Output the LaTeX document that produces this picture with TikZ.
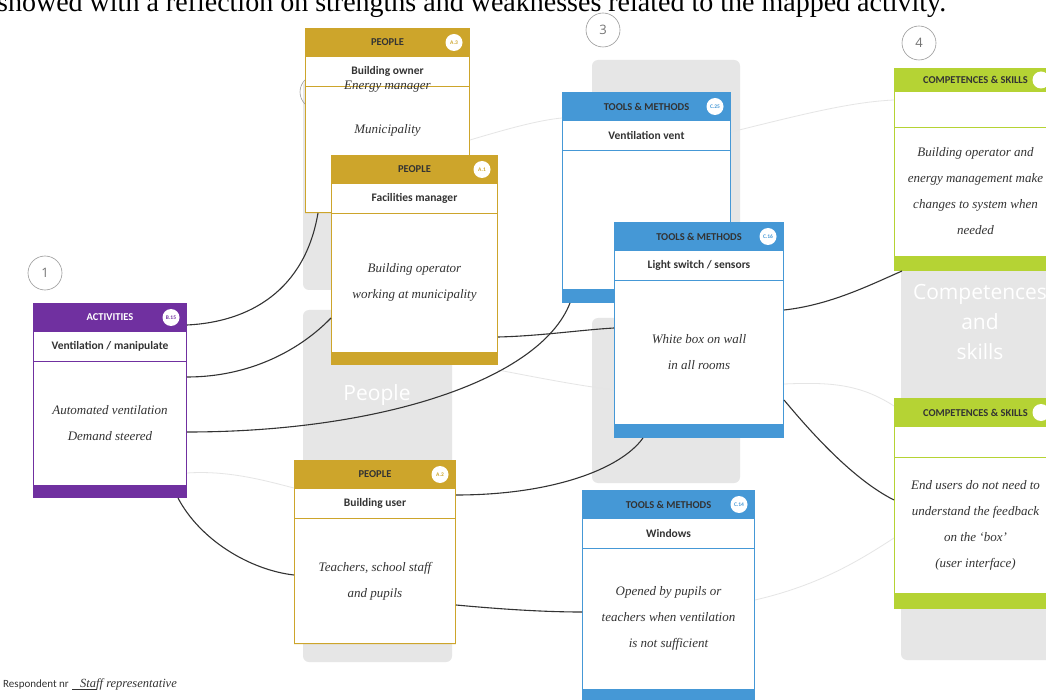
\documentclass[tikz,border=0pt]{standalone}
\usepackage{fontspec}
\setmainfont{Liberation Serif}
\newfontfamily\cardfont{Carlito}
\newfontfamily\labelfont{Open Sans}

\definecolor{actpurple}{HTML}{7030A0}
\definecolor{peoplegold}{HTML}{CDA52B}
\definecolor{toolblue}{HTML}{4598D6}
\definecolor{skillgreen}{HTML}{B5D334}
\definecolor{colgray}{HTML}{E6E6E6}
\definecolor{inkgray}{HTML}{333333}

\def\cardhead{29}
\def\cardsub{29}
\def\cardfoot{13}

\tikzset{
  cardbox/.style={draw, fill=white, line width=1pt, inner sep=0pt, anchor=north west},
  cardtitle/.style={font=\cardfont\fontsize{10.5}{12}\selectfont\bfseries, text=inkgray},
  badge/.style={circle, fill=white, inner sep=0pt, minimum size=17pt, font=\cardfont\fontsize{5.5}{6}\selectfont\bfseries},
  cardsub/.style={font=\cardfont\fontsize{11.5}{13}\selectfont\bfseries, text=inkgray},
  hand/.style={font=\itshape\fontsize{13}{26}\selectfont, text=inkgray, align=center},
  column/.style={fill=colgray, rounded corners=6pt},
  colword/.style={font=\labelfont\fontsize{21}{30}\selectfont, text=white, align=center},
  stepnum/.style={circle, draw=black!40, line width=0.6pt, minimum size=34pt, inner sep=0pt, font=\labelfont\fontsize{13}{13}\selectfont, text=black!55},
  link/.style={draw=inkgray, line width=1.1pt},
  faint/.style={draw=black!10, line width=0.8pt},
}

% card: name, top left, width, height, colour, title, badge, subtitle, text
\newcommand\card[9]{%
  \node[cardbox, draw=#5, minimum width=#3pt, minimum height=#4pt] (#1) at #2 {};
  \fill[#5] (#1.north west) rectangle ([yshift={-\cardhead*1pt}]#1.north east);
  \fill[#5] (#1.south west) rectangle ([yshift={\cardfoot*1pt}]#1.south east);
  \draw[#5, line width=0.6pt] ([yshift={-(\cardhead+\cardsub)*1pt}]#1.north west) -- ([yshift={-(\cardhead+\cardsub)*1pt}]#1.north east);
  \node[cardtitle] (#1-t) at ([yshift={-\cardhead*0.5pt}]#1.north) {#6};
  \node[badge, text=#5] (#1-b) at ([xshift=-16pt, yshift={-\cardhead*0.5pt}]#1.north east) {#7};
  \node[cardsub] (#1-s) at ([yshift={-(\cardhead+\cardsub*0.5)*1pt}]#1.north) {#8};
  \path ([yshift={-(\cardhead+\cardsub)*1pt}]#1.north) -- ([yshift={\cardfoot*1pt}]#1.south) node[midway, hand] (#1-h) {#9};
}

\begin{document}
\begin{tikzpicture}[x=1pt, y=-1pt]
  \useasboundingbox (0,0) rectangle (1046,700);
  \clip (0,0) rectangle (1046,700);
  \fill[white] (0,0) rectangle (1046,700);

  % text above the figure
  \node[anchor=base west, inner sep=0pt, font=\fontsize{28}{28}\selectfont] (intro) at (-3,12)
    {showed with a reflection on strengths and weaknesses related to the mapped activity.};

  % grey columns
  \fill[column] (303,80) rectangle (452,290);
  \fill[column] (303,310) rectangle (452,662);
  \fill[column] (592,60) rectangle (740,300);
  \fill[column] (592,318) rectangle (740,483);
  \fill[column] (901,100) rectangle (1066,660);
  \node[colword] (peopleword) at (377,395) {People};
  \node[colword] (skillword) at (980,322) {Competences\\and\\skills};

  % step numbers
  \node[stepnum] (n1) at (45,273) {1};
  \node[stepnum] (n2) at (317,92) {2};
  \node[stepnum] (n3) at (603,30) {3};
  \node[stepnum] (n4) at (919,43) {4};

  % cards
  \card{act}{(33,303)}{153}{194}{actpurple}{\color{white}ACTIVITIES}{B.15}{Ventilation / manipulate}{Automated ventilation\\Demand steered}
  \def\cardfoot{0}
  \card{a3}{(305,28)}{164}{184}{peoplegold}{PEOPLE}{A.3}{Building owner}{}
  \node[hand] (a3-e) at ([yshift=-59pt]a3.north) {Energy manager};
  \node[hand] (a3-m) at ([yshift=-102pt]a3.north) {Municipality};
  \def\cardfoot{13}
  \card{a1}{(331,155)}{166}{209}{peoplegold}{PEOPLE}{A.1}{Facilities manager}{Building operator\\working at municipality}
  \def\cardfoot{0}
  \card{a2}{(294,460)}{161}{183}{peoplegold}{PEOPLE}{A.2}{Building user}{Teachers, school staff\\and pupils}
  \def\cardfoot{14}
  \card{c25}{(562,92)}{168}{210}{toolblue}{TOOLS \& METHODS}{C.25}{Ventilation vent}{}
  \card{c16}{(614,222)}{169}{215}{toolblue}{TOOLS \& METHODS}{C.16}{Light switch / sensors}{White box on wall\\in all rooms}
  \card{c14}{(582,490)}{172}{212}{toolblue}{TOOLS \& METHODS}{C.14}{Windows}{Opened by pupils or\\teachers when ventilation\\is not sufficient}
  \def\cardhead{24}
  \def\cardsub{35}
  \def\cardfoot{15}
  \card{s1}{(894,68)}{162}{202}{skillgreen}{COMPETENCES \& SKILLS}{}{}{Building operator and\\energy management make\\changes to system when\\needed}
  \def\cardhead{29}
  \def\cardsub{30}
  \def\cardfoot{16}
  \card{s2}{(894,398)}{162}{210}{skillgreen}{COMPETENCES \& SKILLS}{}{}{End users do not need to\\understand the feedback\\on the `box'\\(user interface)}

  % faint background links
  \draw[faint] ([yshift=-112pt]a3.north east) .. controls (510,128) and (540,120) .. ([yshift=-26pt]c25.north west);
  \draw[faint] ([yshift=-40pt]c25.north east) .. controls (800,115) and (850,102) .. ([yshift=-32pt]s1.north west);
  \draw[faint] ([yshift=-170pt]act.north east) .. controls (230,470) and (270,482) .. ([yshift=-28pt]a2.north west);
  \draw[faint] ([yshift=-5pt]a1.south east) .. controls (540,378) and (575,385) .. ([yshift=-168pt]c16.north west);
  \draw[faint] ([yshift=-162pt]c16.north east) .. controls (830,382) and (860,384) .. ([yshift=-8pt]s2.north west);
  \draw[faint] ([yshift=-110pt]c14.north east) .. controls (820,585) and (860,560) .. ([yshift=-140pt]s2.north west);

  % links
  \draw[link] ([yshift=-22pt]act.north east) .. controls (250,322) and (305,290) .. ([xshift=13pt]a3.south west);
  \draw[link] ([yshift=-74pt]act.north east) .. controls (250,377) and (300,350) .. ([yshift=-163pt]a1.north west);
  \draw[link] ([yshift=-129pt]act.north east) .. controls (380,432) and (540,380) .. ([xshift=8pt]c25.south west);
  \draw[link] ([yshift=-182pt]a1.north east) .. controls (540,336) and (580,330) .. ([yshift=-106pt]c16.north west);
  \draw[link] ([xshift=-9pt]act.south east) .. controls (200,540) and (250,570) .. ([yshift=-115pt]a2.north west);
  \draw[link] ([yshift=-145pt]a2.north east) .. controls (510,610) and (550,612) .. ([yshift=-122pt]c14.north west);
  \draw[link] ([yshift=-35pt]a2.north east) .. controls (550,495) and (620,470) .. ([xshift=29pt]c16.south west);
  \draw[link] ([yshift=-88pt]c16.north east) .. controls (830,305) and (870,285) .. ([xshift=8pt]s1.south west);
  \draw[link] ([yshift=-178pt]c16.north east) .. controls (805,425) and (850,478) .. ([yshift=-102pt]s2.north west);

  % respondent line
  \node[anchor=base west, inner sep=0pt, font=\cardfont\fontsize{11}{12}\selectfont, text=inkgray] (resp) at (3,687) {Respondent nr};
  \node[anchor=base west, inner sep=0pt, font=\itshape\fontsize{12.5}{12}\selectfont, text=inkgray] (respname) at (80,687) {Staff representative};
  \draw[inkgray, line width=0.5pt] ([xshift=-8pt, yshift=-2pt]respname.base west) -- ([xshift=17pt, yshift=-2pt]respname.base west);
\end{tikzpicture}
\end{document}
